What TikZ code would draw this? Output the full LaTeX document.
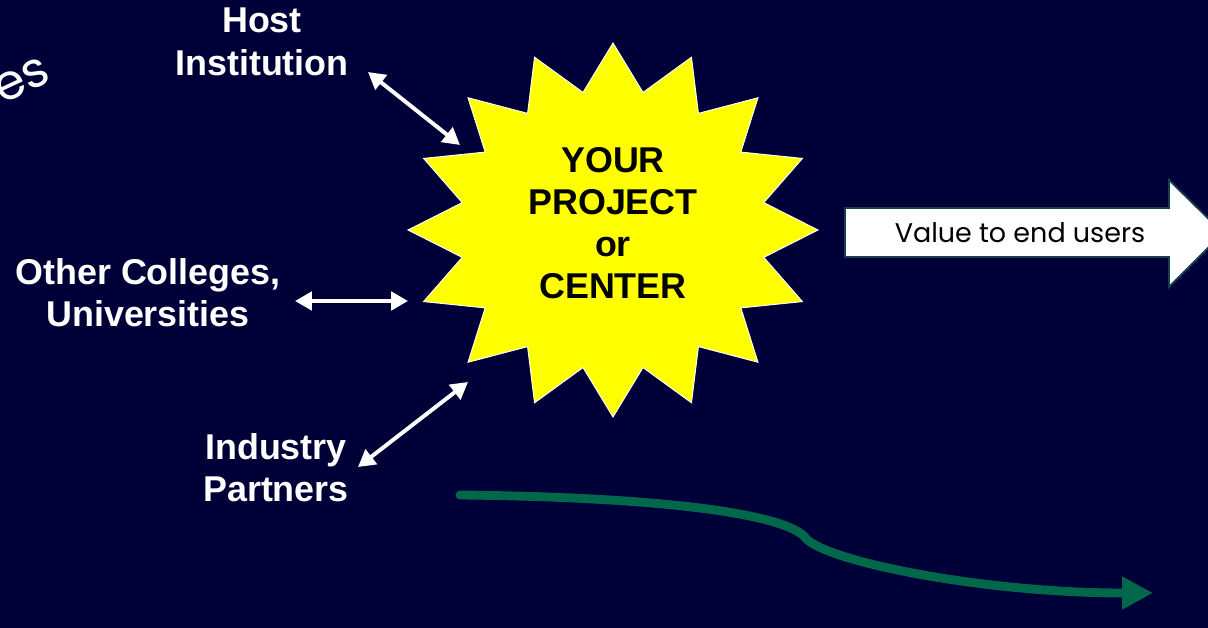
\documentclass[tikz,border=0pt]{standalone}
\usepackage{fontspec}
\setmainfont{Liberation Sans}
\newfontfamily\gothic{Poppins}
\usetikzlibrary{arrows.meta}
\definecolor{navy}{RGB}{0,0,56}
\definecolor{sunny}{RGB}{255,255,0}
\definecolor{pine}{RGB}{0,104,74}
\definecolor{tealedge}{RGB}{22,62,78}

\begin{document}
\begin{tikzpicture}[
    x=0.025cm, y=-0.025cm,
    plabel/.style={draw=none, text=white, align=center, inner sep=0pt, anchor=north,
        font=\fontsize{25.5}{30}\selectfont\bfseries},
    plink/.style={{Triangle[length=12pt, width=13pt]}-{Triangle[length=12pt, width=13pt]},
        white, line width=2.8pt},
    burst/.style={fill=sunny, draw=white, line width=0.7pt, line join=miter}
]
% --- Frame and background ---
\useasboundingbox (0,0) rectangle (1208,628);
\clip (0,0) rectangle (1208,628);
\fill[navy] (0,0) rectangle (1208,628);
% --- Curved lettering coming in from the corner ---
\node[text=white, font=\gothic\fontsize{35}{35}\selectfont, rotate=25, inner sep=0pt] (corner) at (22,80) {es};
% --- Sixteen-point star ---
\path[burst] (613,43) \foreach \k [evaluate=\k as \r using {mod(\k,2)==0 ? 1 : 0.75}] in {1,...,31} {
    -- ({613+205*\r*cos(90+11.25*\k)}, {230-187*\r*sin(90+11.25*\k)})
} -- cycle;
\node[plabel, text=black] (core) at (613,147) {YOUR\\PROJECT\\or\\CENTER};
% --- Partner labels ---
\node[plabel] (host) at (262,8) {Host\\Institution};
\node[plabel] (colleges) at (148,258) {Other Colleges,\\Universities};
\node[plabel] (industry) at (276,433) {Industry\\Partners};
% --- Arrow ends next to the star ---
\coordinate (hostA) at (368,72);
\coordinate (hostB) at (460,145);
\coordinate (collA) at (295,301);
\coordinate (collB) at (408,301);
\coordinate (indA) at (358,467);
\coordinate (indB) at (468,382);
\draw[plink] (hostA) -- (hostB);
\draw[plink] (collA) -- (collB);
\draw[plink] (indA) -- (indB);
% --- Block arrow to the right ---
\draw[fill=white, draw=tealedge, line width=1.3pt, line join=miter]
    (845,208) -- (1169,208) -- (1169,180) -- (1223,233) -- (1169,287) -- (1169,257) -- (845,257) -- cycle;
\node[font=\gothic\fontsize{19.2}{20}\selectfont, text=black, inner sep=0pt, anchor=base] (gain) at (1020,243) {Value to end users};
% --- Green trail ---
\coordinate (trailA) at (460,495);
\coordinate (trailB) at (1153,593);
\draw[pine, line width=6.3pt, line cap=round, -{Triangle[length=22pt, width=22pt]}]
    (trailA) .. controls (650,497) and (778,512) .. (804,536)
             .. controls (818,560) and (980,593) .. (trailB);
\end{tikzpicture}
\end{document}
